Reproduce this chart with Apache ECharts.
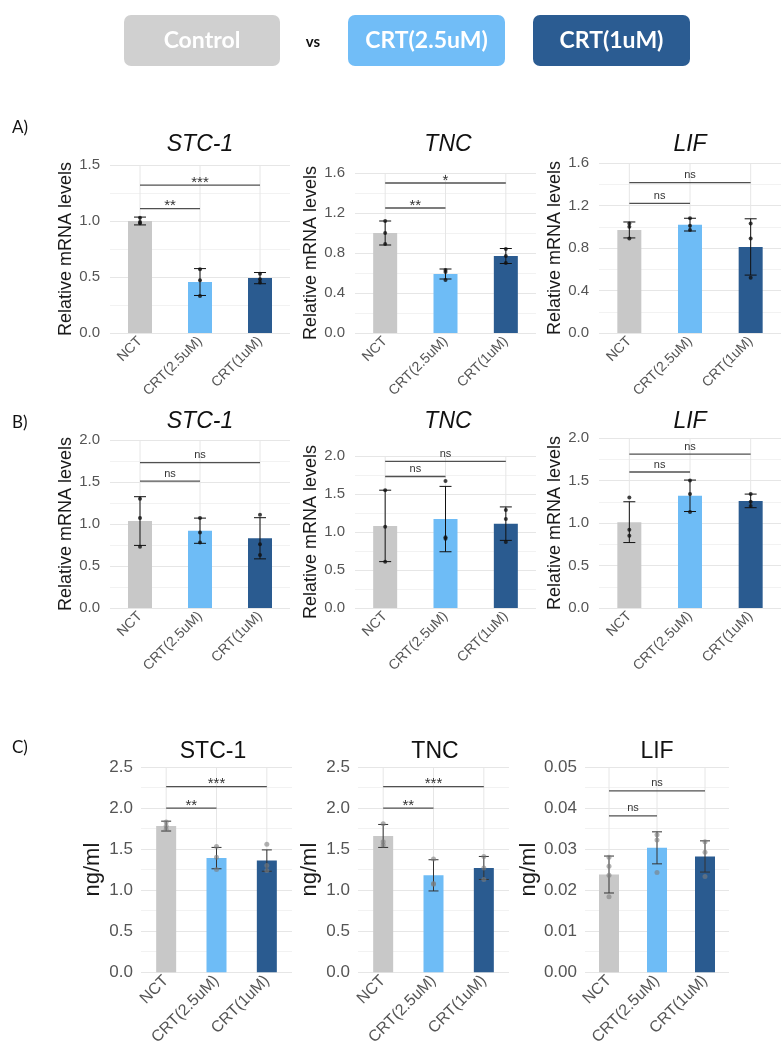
<!DOCTYPE html>
<html><head><meta charset="utf-8">
<script src="https://cdn.jsdelivr.net/npm/echarts@6/dist/echarts.min.js"></script>
<style>html,body{margin:0;padding:0;background:#fff}#c{width:781px;height:1048px}</style>
</head><body><div id="c"></div>
<script>
// ---------- data ----------
const categories = ['NCT', 'CRT(2.5uM)', 'CRT(1uM)'];
const legendLabels = ['Control', 'vs', 'CRT(2.5uM)', 'CRT(1uM)'];
const barColors = ['#c8c8c8', '#6ebcf6', '#2a5b90'];

// A) mRNA
const aStc1Mean = [1.00, 0.455, 0.49];
const aStc1Sd = [0.035, 0.12, 0.05];
const aStc1Pts = [[1.03, 0.99, 0.98], [0.57, 0.47, 0.33], [0.53, 0.48, 0.45]];
const aStc1Sig = [['**', 1.11, 1], ['***', 1.32, 2]];
const aStc1Axis = [0, 1.5, 0.5];

const aTncMean = [1.00, 0.59, 0.77];
const aTncSd = [0.12, 0.05, 0.075];
const aTncPts = [[1.12, 1.00, 0.89], [0.63, 0.61, 0.53], [0.84, 0.77, 0.70]];
const aTncSig = [['**', 1.25, 1], ['*', 1.50, 2]];
const aTncAxis = [0, 1.6, 0.4];

const aLifMean = [0.97, 1.02, 0.81];
const aLifSd = [0.075, 0.06, 0.265];
const aLifPts = [[1.03, 1.00, 0.89], [1.08, 1.01, 0.97], [1.03, 0.89, 0.52]];
const aLifSig = [['ns', 1.22, 1], ['ns', 1.415, 2]];
const aLifAxis = [0, 1.6, 0.4];

// B) mRNA
const bStc1Mean = [1.035, 0.92, 0.83];
const bStc1Sd = [0.29, 0.15, 0.245];
const bStc1Pts = [[1.30, 1.07, 0.73], [1.07, 0.90, 0.78], [1.11, 0.76, 0.63]];
const bStc1Sig = [['ns', 1.51, 1], ['ns', 1.73, 2]];
const bStc1Axis = [0, 2.0, 0.5];

const bTncMean = [1.08, 1.17, 1.11];
const bTncSd = [0.47, 0.43, 0.22];
const bTncPts = [[1.55, 1.07, 0.61], [1.67, 0.93, 0.91], [1.29, 1.17, 0.87]];
const bTncSig = [['ns', 1.73, 1], ['ns', 1.93, 2]];
const bTncAxis = [0, 2.0, 0.5];

const bLifMean = [1.01, 1.32, 1.26];
const bLifSd = [0.24, 0.185, 0.08];
const bLifPts = [[1.30, 0.92, 0.85], [1.50, 1.34, 1.13], [1.34, 1.25, 1.20]];
const bLifSig = [['ns', 1.60, 1], ['ns', 1.81, 2]];
const bLifAxis = [0, 2.0, 0.5];

// C) protein (ng/ml)
const cStc1Mean = [1.78, 1.39, 1.36];
const cStc1Sd = [0.06, 0.13, 0.13];
const cStc1Pts = [[1.83, 1.78, 1.74], [1.53, 1.40, 1.25], [1.56, 1.30, 1.24]];
const cStc1Sig = [['**', 2.00, 1], ['***', 2.26, 2]];
const cStc1Axis = [0, 2.5, 0.5];

const cTncMean = [1.66, 1.18, 1.27];
const cTncSd = [0.14, 0.19, 0.14];
const cTncPts = [[1.81, 1.59, 1.55], [1.38, 1.08, 1.07], [1.41, 1.27, 1.13]];
const cTncSig = [['**', 2.00, 1], ['***', 2.26, 2]];
const cTncAxis = [0, 2.5, 0.5];

const cLifMean = [0.0238, 0.0303, 0.0282];
const cLifSd = [0.0045, 0.0039, 0.0038];
const cLifPts = [[0.0280, 0.0258, 0.0236, 0.0184], [0.0335, 0.0322, 0.0243], [0.0318, 0.0292, 0.0233]];
const cLifSig = [['ns', 0.0381, 1], ['ns', 0.0442, 2]];
const cLifAxis = [0, 0.05, 0.01];

// ---------- layout / styling ----------
const FONT = '"Liberation Sans", Arial, sans-serif';
const STY = {
  AB: {barWidth: 24, cap: 6, tickFont: 15, xFont: 14, xMargin: 6, nameFont: 18, nameGap: 33, ptSize: 4, ptColor: '#111', errColor: '#111', margin: 10},
  C: {barWidth: 20, cap: 5, tickFont: 17, xFont: 16, xMargin: 6, nameFont: 22, nameGap: 37, ptSize: 5, ptColor: 'rgba(125,125,125,0.75)', errColor: '#333', margin: 8}
};
const RNA = 'Relative mRNA levels';
const NG = 'ng/ml';
const panels = [
  {t: 'STC-1', it: true, m: aStc1Mean, sd: aStc1Sd, pts: aStc1Pts, sig: aStc1Sig, ax: aStc1Axis, dec: 1, yn: RNA, box: [110, 165, 180, 168], tx: 200, ty: 145, s: 'AB'},
  {t: 'TNC', it: true, m: aTncMean, sd: aTncSd, pts: aTncPts, sig: aTncSig, ax: aTncAxis, dec: 1, yn: RNA, box: [355, 173, 181, 160], tx: 448, ty: 145, s: 'AB'},
  {t: 'LIF', it: true, m: aLifMean, sd: aLifSd, pts: aLifPts, sig: aLifSig, ax: aLifAxis, dec: 1, yn: RNA, box: [599, 163, 183, 170], tx: 690, ty: 145, s: 'AB'},
  {t: 'STC-1', it: true, m: bStc1Mean, sd: bStc1Sd, pts: bStc1Pts, sig: bStc1Sig, ax: bStc1Axis, dec: 1, yn: RNA, box: [110, 440, 180, 168], tx: 200, ty: 422, s: 'AB'},
  {t: 'TNC', it: true, m: bTncMean, sd: bTncSd, pts: bTncPts, sig: bTncSig, ax: bTncAxis, dec: 1, yn: RNA, box: [355, 456, 181, 152], tx: 448, ty: 422, s: 'AB'},
  {t: 'LIF', it: true, m: bLifMean, sd: bLifSd, pts: bLifPts, sig: bLifSig, ax: bLifAxis, dec: 1, yn: RNA, box: [599, 438, 183, 170], tx: 690, ty: 422, s: 'AB'},
  {t: 'STC-1', it: false, m: cStc1Mean, sd: cStc1Sd, pts: cStc1Pts, sig: cStc1Sig, ax: cStc1Axis, dec: 1, yn: NG, box: [141, 767, 151, 206], tx: 213, ty: 752, s: 'C'},
  {t: 'TNC', it: false, m: cTncMean, sd: cTncSd, pts: cTncPts, sig: cTncSig, ax: cTncAxis, dec: 1, yn: NG, box: [358, 767, 151, 206], tx: 435, ty: 752, s: 'C'},
  {t: 'LIF', it: false, m: cLifMean, sd: cLifSd, pts: cLifPts, sig: cLifSig, ax: cLifAxis, dec: 2, yn: NG, box: [585, 767, 144, 206], tx: 657, ty: 752, s: 'C'}
];

const grid = [], xAxis = [], yAxis = [], series = [], graphic = [];

function txt(x, y, text, font, fill, align, valign) {
  return {type: 'text', x: x, y: y, silent: true,
    style: {text: text, font: font, fill: fill, align: align, verticalAlign: valign, textAlign: align, textVerticalAlign: valign}};
}

panels.forEach((p, i) => {
  const s = STY[p.s];
  const ymin = p.ax[0], ymax = p.ax[1];
  grid.push({left: p.box[0], top: p.box[1], width: p.box[2], height: p.box[3]});
  xAxis.push({type: 'category', gridIndex: i, data: categories,
    axisLine: {show: false}, axisTick: {show: false}, splitLine: {show: false},
    axisLabel: {interval: 0, rotate: 45, fontSize: s.xFont, color: '#555', margin: s.xMargin, fontFamily: FONT}});
  yAxis.push({type: 'value', gridIndex: i, min: ymin, max: ymax, interval: p.ax[2],
    axisLine: {show: false}, axisTick: {show: false},
    axisLabel: {fontSize: s.tickFont, color: '#555', margin: s.margin, fontFamily: FONT, formatter: v => v.toFixed(p.dec)},
    splitLine: {show: true, lineStyle: {color: '#e6e6e6', width: 1}},
    minorTick: {show: false, splitNumber: 2},
    minorSplitLine: {show: true, lineStyle: {color: '#f2f2f2', width: 1}},
    name: p.yn, nameLocation: 'middle', nameGap: s.nameGap, nameRotate: 90,
    nameTextStyle: {fontSize: s.nameFont, color: '#1a1a1a', fontFamily: FONT}});

  // vertical major grid lines at category positions
  series.push({type: 'custom', xAxisIndex: i, yAxisIndex: i, z: 1, silent: true,
    data: categories.map((c, j) => [j, ymin]),
    renderItem: (params, api) => {
      const a = api.coord([api.value(0), ymin]);
      const b = api.coord([api.value(0), ymax]);
      return {type: 'line', shape: {x1: a[0], y1: a[1], x2: b[0], y2: b[1]}, style: {stroke: '#e6e6e6', lineWidth: 1}};
    }});
  // bars
  series.push({type: 'bar', xAxisIndex: i, yAxisIndex: i, z: 2, silent: true, barWidth: s.barWidth,
    data: p.m.map((v, j) => ({value: v, itemStyle: {color: barColors[j]}}))});
  // error bars
  series.push({type: 'custom', xAxisIndex: i, yAxisIndex: i, z: 3, silent: true,
    data: p.m.map((v, j) => [j, v - p.sd[j], v + p.sd[j]]),
    renderItem: (params, api) => {
      const lo = api.coord([api.value(0), api.value(1)]);
      const hi = api.coord([api.value(0), api.value(2)]);
      const st = {stroke: s.errColor, lineWidth: 1};
      return {type: 'group', children: [
        {type: 'line', shape: {x1: hi[0], y1: hi[1], x2: lo[0], y2: lo[1]}, style: st},
        {type: 'line', shape: {x1: hi[0] - s.cap, y1: hi[1], x2: hi[0] + s.cap, y2: hi[1]}, style: st},
        {type: 'line', shape: {x1: lo[0] - s.cap, y1: lo[1], x2: lo[0] + s.cap, y2: lo[1]}, style: st}
      ]};
    }});
  // individual points
  series.push({type: 'scatter', xAxisIndex: i, yAxisIndex: i, z: 4, silent: true,
    symbolSize: s.ptSize, itemStyle: {color: s.ptColor},
    data: p.pts.flatMap((arr, j) => arr.map(v => [j, v]))});
  // significance brackets
  series.push({type: 'custom', xAxisIndex: i, yAxisIndex: i, z: 5, silent: true,
    data: p.sig.map(g => [0, g[1], g[2]]),
    renderItem: (params, api) => {
      const y = api.value(1);
      const a = api.coord([api.value(0), y]);
      const b = api.coord([api.value(2), y]);
      const lab = p.sig[params.dataIndex][0];
      const star = lab !== 'ns';
      const mx = (a[0] + b[0]) / 2;
      return {type: 'group', children: [
        {type: 'line', shape: {x1: a[0], y1: a[1], x2: b[0], y2: b[1]}, style: {stroke: '#505050', lineWidth: 1.3}},
        {type: 'text', x: mx, y: star ? a[1] + 5 : a[1] - 2,
          style: {text: lab, font: star ? '15px ' + FONT : '11px ' + FONT, fill: '#333',
            align: 'center', verticalAlign: 'bottom', textAlign: 'center', textVerticalAlign: 'bottom'}}
      ]};
    }});
  // title
  graphic.push(txt(p.tx, p.ty, p.t, (p.it ? 'italic ' : '') + '23px ' + FONT, '#111', 'center', 'middle'));
});

// header legend boxes
const hdr = [
  {x: 124, w: 156, fill: '#d0d0d0', label: legendLabels[0]},
  {x: 348, w: 157, fill: '#71bdf7', label: legendLabels[2]},
  {x: 533, w: 157, fill: '#2b5c92', label: legendLabels[3]}
];
hdr.forEach(h => {
  graphic.push({type: 'rect', silent: true, shape: {x: h.x, y: 15, width: h.w, height: 51, r: 7}, style: {fill: h.fill}});
  graphic.push(txt(h.x + h.w / 2, 41, h.label, 'bold 23px Lato, "Open Sans", sans-serif', '#ffffff', 'center', 'middle'));
});
graphic.push(txt(313, 42, legendLabels[1], 'bold 15px Lato, "Open Sans", sans-serif', '#111', 'center', 'middle'));
// panel letters
graphic.push(txt(12, 128, 'A)', '17px Lato, "Open Sans", sans-serif', '#111', 'left', 'middle'));
graphic.push(txt(12, 423, 'B)', '17px Lato, "Open Sans", sans-serif', '#111', 'left', 'middle'));
graphic.push(txt(12, 748, 'C)', '17px Lato, "Open Sans", sans-serif', '#111', 'left', 'middle'));

const chart = echarts.init(document.getElementById('c'), null, {renderer: 'canvas'});
chart.setOption({
  animation: false,
  backgroundColor: '#ffffff',
  grid: grid, xAxis: xAxis, yAxis: yAxis, series: series, graphic: graphic
});
</script></body></html>
